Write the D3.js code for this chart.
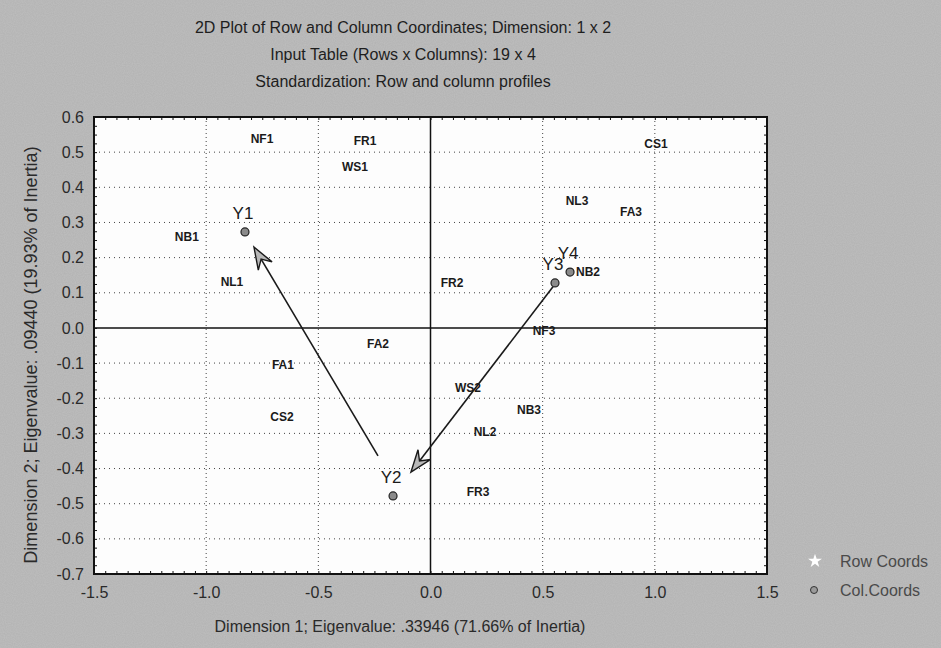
<!DOCTYPE html>
<html>
<head>
<meta charset="utf-8">
<script src="https://cdnjs.cloudflare.com/ajax/libs/d3/7.8.5/d3.min.js"></script>
<style>
  html, body { margin: 0; padding: 0; background: #b2b2b2; }
  svg { display: block; font-family: "Liberation Sans", Arial, sans-serif; }
</style>
</head>
<body>
<div id="chart"></div>
<script>
// row points (labels only, markers are white)
var rowLabels = ['NF1', 'FR1', 'WS1', 'NB1', 'NL1', 'FR2', 'CS1', 'NL3', 'FA3',
                 'NB2', 'FA2', 'FA1', 'CS2', 'NF3', 'WS2', 'NB3', 'NL2', 'FR3'];
var rowDim1 = [-0.751, -0.292, -0.337, -1.086, -0.885, 0.096, 1.005, 0.653, 0.894,
               0.702, -0.234, -0.658, -0.662, 0.506, 0.167, 0.439, 0.243, 0.212];
var rowDim2 = [0.538, 0.532, 0.458, 0.259, 0.131, 0.128, 0.523, 0.361, 0.330,
               0.159, -0.046, -0.105, -0.253, -0.009, -0.171, -0.233, -0.296, -0.467];

// column points
var colLabels = ['Y1', 'Y2', 'Y3', 'Y4'];
var colDim1 = [-0.827, -0.167, 0.555, 0.622];
var colDim2 = [0.273, -0.478, 0.128, 0.159];

// hand drawn arrows, [dim1, dim2]
var arrowFrom = [[-0.234, -0.364], [0.546, 0.117]];
var arrowTo = [[-0.787, 0.230], [-0.087, -0.410]];

var xTicks = [-1.5, -1.0, -0.5, 0.0, 0.5, 1.0, 1.5];
var yTicks = [0.6, 0.5, 0.4, 0.3, 0.2, 0.1, 0.0, -0.1, -0.2, -0.3, -0.4, -0.5, -0.6, -0.7];

var titleLines = ['2D Plot of Row and Column Coordinates; Dimension: 1 x 2',
                  'Input Table (Rows x Columns): 19 x 4',
                  'Standardization: Row and column profiles'];
var xTitle = 'Dimension 1; Eigenvalue: .33946 (71.66% of Inertia)';
var yTitle = 'Dimension 2; Eigenvalue: .09440 (19.93% of Inertia)';
var legendLabels = ['Row Coords', 'Col.Coords'];

drawChart();


/*-- functions --*/
function drawChart()
{
  var width = 941,
      height = 648,
      left = 94,
      right = 767,
      top = 117,
      bottom = 574,
      fmt = d3.format('.1f'),
      svg,
      plot,
      x,
      y,
      i
  ;

  x = d3.scaleLinear().domain([-1.5, 1.5]).range([left, right]);
  y = d3.scaleLinear().domain([-0.7, 0.6]).range([bottom, top]);

  svg =
  d3
    .select('#chart')
    .append('svg')
      .attr('width', width)
      .attr('height', height)
  ;

  // scanned grey background
  var defs = svg.append('defs');
  var noise = defs.append('filter').attr('id', 'grain')
    .attr('x', 0).attr('y', 0).attr('width', '100%').attr('height', '100%');
  noise.append('feTurbulence')
    .attr('type', 'fractalNoise')
    .attr('baseFrequency', 0.9)
    .attr('numOctaves', 1)
    .attr('seed', 3);
  noise.append('feColorMatrix')
    .attr('type', 'matrix')
    .attr('values', '0 0 0 0 0.69  0 0 0 0 0.69  0 0 0 0 0.69  0 0 0 0.55 0');

  svg.append('rect')
    .attr('width', width).attr('height', height)
    .attr('fill', '#b2b2b2');
  svg.append('rect')
    .attr('width', width).attr('height', height)
    .attr('fill', '#b2b2b2')
    .attr('filter', 'url(#grain)')
    .attr('opacity', 0.6);

  // titles
  svg
    .selectAll('text.title')
    .data( titleLines )
    .enter()
      .append('text')
      .attr('class', 'title')
      .attr('x', 403)
      .attr('y', function( d, i ) { return 27 + i * 27; })
      .attr('dy', '0.35em')
      .attr('text-anchor', 'middle')
      .style('font-size', '16px')
      .style('fill', '#1e1e1e')
      .text(function(d) { return d; })
  ;

  // plot area
  svg.append('rect')
    .attr('x', left).attr('y', top)
    .attr('width', right - left).attr('height', bottom - top)
    .attr('fill', '#fdfdfd');

  plot = svg.append('g');

  // dotted grid
  plot
    .selectAll('line.vgrid')
    .data( xTicks.filter(function(d) { return d > -1.5 && d < 1.5 && d !== 0; }) )
    .enter()
      .append('line')
      .attr('x1', x).attr('x2', x)
      .attr('y1', top).attr('y2', bottom)
      .attr('stroke', '#444')
      .attr('stroke-width', 1)
      .attr('stroke-dasharray', '1,3')
  ;
  plot
    .selectAll('line.hgrid')
    .data( yTicks.filter(function(d) { return d > -0.7 && d < 0.6 && d !== 0; }) )
    .enter()
      .append('line')
      .attr('y1', y).attr('y2', y)
      .attr('x1', left).attr('x2', right)
      .attr('stroke', '#444')
      .attr('stroke-width', 1)
      .attr('stroke-dasharray', '1,4')
  ;

  // zero axes
  plot.append('line')
    .attr('x1', x(0)).attr('x2', x(0))
    .attr('y1', top).attr('y2', bottom)
    .attr('stroke', '#111').attr('stroke-width', 1.5);
  plot.append('line')
    .attr('x1', left).attr('x2', right)
    .attr('y1', y(0)).attr('y2', y(0))
    .attr('stroke', '#111').attr('stroke-width', 1.5);

  // minor ticks on the frame
  var xMinor = d3.range(-1.5, 1.5001, 0.05);
  var yMinor = d3.range(-0.7, 0.6001, 0.025);

  svg.append('g')
    .attr('transform', 'translate(0,' + bottom + ')')
    .call( d3.axisTop(x).tickValues(xMinor).tickSize(3).tickFormat('') );
  svg.append('g')
    .attr('transform', 'translate(0,' + top + ')')
    .call( d3.axisBottom(x).tickValues(xMinor).tickSize(3).tickFormat('') );
  svg.append('g')
    .attr('transform', 'translate(' + left + ',0)')
    .call( d3.axisRight(y).tickValues(yMinor).tickSize(3).tickFormat('') );
  svg.append('g')
    .attr('transform', 'translate(' + right + ',0)')
    .call( d3.axisLeft(y).tickValues(yMinor).tickSize(3).tickFormat('') );

  svg.selectAll('.domain').remove();
  svg.selectAll('.tick line').attr('stroke', '#111');

  // frame
  svg.append('rect')
    .attr('x', left).attr('y', top)
    .attr('width', right - left).attr('height', bottom - top)
    .attr('fill', 'none')
    .attr('stroke', '#111')
    .attr('stroke-width', 2);

  // tick labels
  var xAxis = svg.append('g')
    .attr('transform', 'translate(0,' + (bottom + 7) + ')')
    .call( d3.axisBottom(x).tickValues(xTicks).tickSize(0).tickFormat(fmt) );
  var yAxis = svg.append('g')
    .attr('transform', 'translate(' + (left - 10) + ',0)')
    .call( d3.axisLeft(y).tickValues(yTicks).tickSize(0).tickFormat(fmt) );

  xAxis.select('.domain').remove();
  yAxis.select('.domain').remove();
  xAxis.selectAll('text')
    .attr('dy', '0.85em')
    .style('font-size', '16px')
    .style('font-family', '"Liberation Sans", Arial, sans-serif')
    .style('fill', '#2a2a2a')
    .text(function(d) { return fmt(d).replace('\u2212', '-'); });
  yAxis.selectAll('text')
    .attr('x', 0)
    .style('font-size', '16px')
    .style('font-family', '"Liberation Sans", Arial, sans-serif')
    .style('fill', '#2a2a2a')
    .text(function(d) { return fmt(d).replace('\u2212', '-'); });

  // axis titles
  svg.append('text')
    .attr('x', 400).attr('y', 626)
    .attr('dy', '0.35em')
    .attr('text-anchor', 'middle')
    .style('font-size', '16px')
    .style('fill', '#2a2a2a')
    .text( xTitle );
  svg.append('text')
    .attr('transform', 'translate(31,355) rotate(-90)')
    .attr('dy', '0.35em')
    .attr('text-anchor', 'middle')
    .style('font-size', '18px')
    .style('fill', '#2a2a2a')
    .text( yTitle );

  // arrows
  for( i = 0; i < arrowFrom.length; i++ )
  {
    drawArrow( plot, x(arrowFrom[i][0]), y(arrowFrom[i][1]), x(arrowTo[i][0]), y(arrowTo[i][1]) );
  }

  // row labels
  plot
    .selectAll('text.row')
    .data( rowLabels )
    .enter()
      .append('text')
      .attr('class', 'row')
      .attr('x', function( d, i ) { return x( rowDim1[i] ); })
      .attr('y', function( d, i ) { return y( rowDim2[i] ); })
      .attr('dy', '0.35em')
      .attr('text-anchor', 'middle')
      .style('font-size', '12px')
      .style('font-weight', 'bold')
      .style('fill', '#1a1a1a')
      .text(function(d) { return d; })
  ;

  // column points and labels
  plot
    .selectAll('circle.col')
    .data( colLabels )
    .enter()
      .append('circle')
      .attr('class', 'col')
      .attr('cx', function( d, i ) { return x( colDim1[i] ); })
      .attr('cy', function( d, i ) { return y( colDim2[i] ); })
      .attr('r', 4)
      .attr('fill', '#8a8a8a')
      .attr('stroke', '#222')
      .attr('stroke-width', 1.2)
  ;
  plot
    .selectAll('text.col')
    .data( colLabels )
    .enter()
      .append('text')
      .attr('class', 'col')
      .attr('x', function( d, i ) { return x( colDim1[i] ) - 2; })
      .attr('y', function( d, i ) { return y( colDim2[i] ) - 19; })
      .attr('dy', '0.35em')
      .attr('text-anchor', 'middle')
      .style('font-size', '17px')
      .style('fill', '#1a1a1a')
      .text(function(d) { return d; })
  ;

  // legend
  var legend = svg.append('g');
  legend.append('path')
    .attr('transform', 'translate(815,561)')
    .attr('d', d3.symbol().type(d3.symbolStar).size(60)())
    .attr('fill', '#ffffff');
  legend.append('circle')
    .attr('cx', 814).attr('cy', 590).attr('r', 3.5)
    .attr('fill', '#9a9a9a')
    .attr('stroke', '#333').attr('stroke-width', 1);
  legend
    .selectAll('text')
    .data( legendLabels )
    .enter()
      .append('text')
      .attr('x', 840)
      .attr('y', function( d, i ) { return 561 + i * 29; })
      .attr('dy', '0.35em')
      .style('font-size', '16px')
      .style('fill', '#4a4a4a')
      .text(function(d) { return d; })
  ;
}


function drawArrow( g, x1, y1, x2, y2 )
{
  var angle = Math.atan2( y2 - y1, x2 - x1 ),
      len = 22,
      half = 8,
      notch = 14,
      ux = Math.cos( angle ),
      uy = Math.sin( angle ),
      px = -uy,
      py = ux,
      bx = x2 - ux * len,
      by = y2 - uy * len,
      nx = x2 - ux * notch,
      ny = y2 - uy * notch
  ;

  g.append('line')
    .attr('x1', x1).attr('y1', y1)
    .attr('x2', nx).attr('y2', ny)
    .attr('stroke', '#1a1a1a')
    .attr('stroke-width', 1.6);

  g.append('path')
    .attr('d', 'M' + x2 + ',' + y2 +
               'L' + (bx + px * half) + ',' + (by + py * half) +
               'L' + nx + ',' + ny +
               'L' + (bx - px * half) + ',' + (by - py * half) + 'Z')
    .attr('fill', '#b8b8b8')
    .attr('stroke', '#1a1a1a')
    .attr('stroke-width', 1.4)
    .attr('stroke-linejoin', 'miter');
}
</script>
</body>
</html>
